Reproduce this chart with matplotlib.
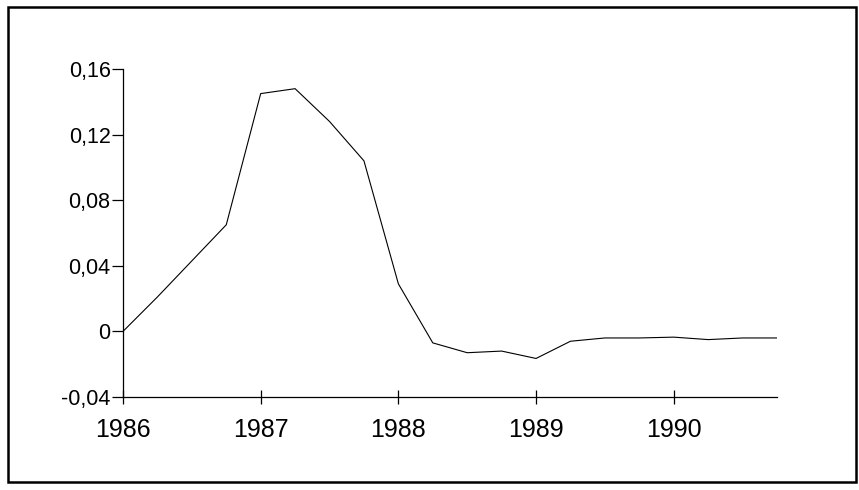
import numpy as np
import matplotlib
matplotlib.use("Agg")
import matplotlib.pyplot as plt
from matplotlib.patches import Rectangle

plt.rcParams['font.family'] = ['Liberation Sans', 'DejaVu Sans']

# quarterly observations, 1986Q1 .. 1990Q4
quarters = [1986.0, 1986.25, 1986.5, 1986.75,
            1987.0, 1987.25, 1987.5, 1987.75,
            1988.0, 1988.25, 1988.5, 1988.75,
            1989.0, 1989.25, 1989.5, 1989.75,
            1990.0, 1990.25, 1990.5, 1990.75]
values = [0.0, 0.021, 0.043, 0.065,
          0.145, 0.148, 0.128, 0.104,
          0.029, -0.007, -0.013, -0.012,
          -0.0165, -0.006, -0.004, -0.004,
          -0.0035, -0.005, -0.004, -0.004]

y_ticks = [-0.04, 0, 0.04, 0.08, 0.12, 0.16]
y_labels = ["-0,04", "0", "0,04", "0,08", "0,12", "0,16"]
x_ticks = [1986, 1987, 1988, 1989, 1990]
x_labels = ["1986", "1987", "1988", "1989", "1990"]

fig = plt.figure(figsize=(8.59, 4.90), dpi=100)

# outer frame of the scanned chart
fig.patches.append(Rectangle((8 / 859, 8 / 490), 848 / 859, 475 / 490,
                             transform=fig.transFigure, fill=False,
                             edgecolor='black', linewidth=1.8))

ax = fig.add_axes([123 / 859, 1 - 397 / 490, 654 / 859, 328 / 490])
ax.plot(quarters, values, color='black', linewidth=0.8)

ax.set_xlim(1986, 1990.75)
ax.set_ylim(-0.04, 0.16)
ax.set_xticks(x_ticks)
ax.set_xticklabels(x_labels, fontsize=18)
ax.set_yticks(y_ticks)
ax.set_yticklabels(y_labels, fontsize=15.5)

ax.spines['top'].set_visible(False)
ax.spines['right'].set_visible(False)
for s in ['left', 'bottom']:
    ax.spines[s].set_linewidth(0.9)

ax.tick_params(axis='x', direction='inout', length=10, width=0.9, pad=10)
ax.tick_params(axis='y', direction='out', length=8, width=0.9, pad=1)

fig.savefig("out.png", dpi=100)
